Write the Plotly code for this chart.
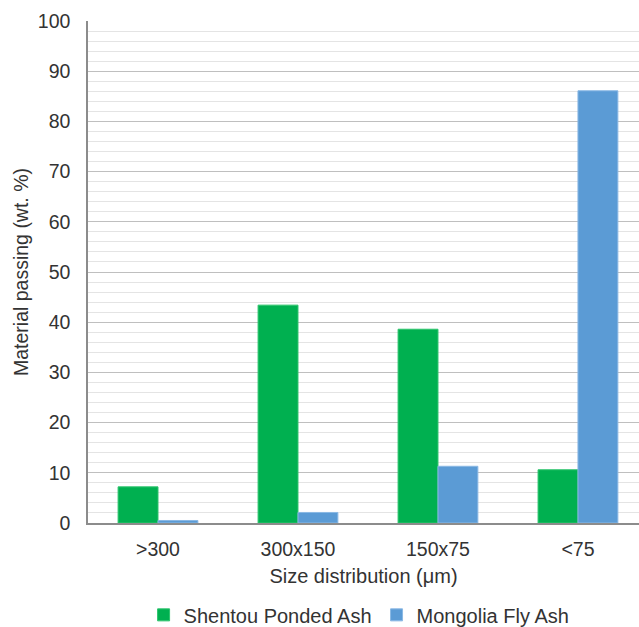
import plotly.graph_objects as go

categories = [">300", "300x150", "150x75", "<75"]
shentou = [7.2, 43.4, 38.6, 10.6]
mongolia = [0.5, 2.1, 11.3, 86.1]

x = list(range(len(categories)))
fig = go.Figure()
fig.add_trace(go.Bar(x=x, y=shentou, name="Shentou Ponded Ash",
                     marker=dict(color="#00b050", line=dict(color="#2cc46c", width=1))))
fig.add_trace(go.Bar(x=x, y=mongolia, name="Mongolia Fly Ash",
                     marker=dict(color="#5b9bd5", line=dict(color="#8ab8e4", width=1))))

font = dict(family="Liberation Sans, Arial, sans-serif", size=19.5, color="#333333")
fig.update_layout(
    width=639, height=627,
    margin=dict(l=88, r=0, t=21, b=104, autoexpand=False),
    paper_bgcolor="white", plot_bgcolor="white",
    font=font,
    barmode="group", bargap=0.43, bargroupgap=0,
    showlegend=True,
    legend=dict(orientation="h", x=0.492, xanchor="center", y=-0.183, yanchor="middle",
                font=dict(family=font["family"], size=20, color="#333333"),
                itemwidth=30, tracegroupgap=0),
    xaxis=dict(
        tickmode="array", tickvals=x, ticktext=categories,
        range=[-0.5, 3.436],
        showline=True, linecolor="#8c8c8c", linewidth=1.5,
        ticks="", showgrid=False, zeroline=False, ticklabelstandoff=8,
        automargin=False,
        title=dict(text="Size distribution (μm)", standoff=10, font=dict(family=font["family"], size=20, color="#333333")),
    ),
    yaxis=dict(
        range=[0, 100], dtick=10, tick0=0,
        showline=True, linecolor="#8c8c8c", linewidth=1.5,
        gridcolor="#bfbfbf", gridwidth=1,
        zeroline=False, ticks="", ticklabelstandoff=12,
        automargin=False,
        minor=dict(dtick=2, showgrid=True, gridcolor="#e4e4e4", gridwidth=1),
        title=dict(text="Material passing (wt. %)", standoff=4, font=font),
    ),
)
fig.write_html("out.html", config={"displayModeBar": False},
               post_script="document.body.style.margin='0';")
